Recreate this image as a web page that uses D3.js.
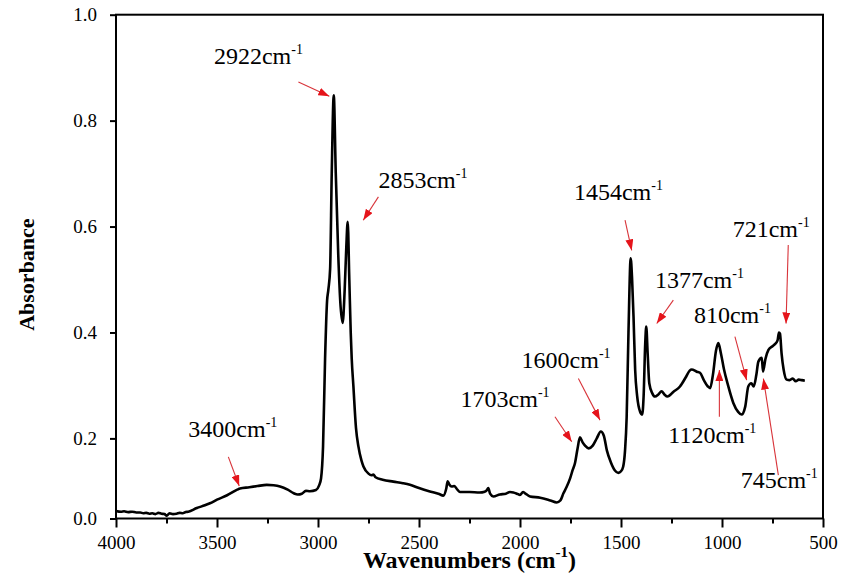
<!DOCTYPE html>
<html>
<head>
<meta charset="utf-8">
<script src="https://cdn.jsdelivr.net/npm/d3@7"></script>
<style>
  html, body { margin: 0; padding: 0; background: #fff; }
  svg { display: block; }
</style>
</head>
<body>
<svg id="chart" width="843" height="575"></svg>
<script>
// ---------------- DATA ----------------
const wavenumbers = [
  4000, 3975, 3960, 3940, 3920, 3900, 3880, 3865, 3850, 3835, 3820, 3805, 3790, 3775, 3760, 3749, 3735, 3718, 3700, 3685, 3670, 3655, 3642, 3600, 3560, 3535,
  3500, 3450, 3400, 3386, 3340, 3300, 3254, 3220, 3188, 3150, 3120, 3100, 3080, 3060, 3040, 3010,
  2995, 2985, 2975, 2965, 2955, 2949, 2940, 2932, 2922, 2912, 2900, 2890, 2878, 2868, 2860, 2853,
  2845, 2838, 2833, 2825, 2812, 2800, 2785, 2775, 2750, 2735, 2726, 2715, 2680, 2627, 2580, 2545,
  2500, 2450, 2400, 2380, 2365, 2358, 2350, 2338, 2325, 2310, 2297, 2250, 2200, 2175, 2165, 2157,
  2148, 2132, 2100, 2070, 2050, 2033, 2015, 2000, 1985, 1975, 1950, 1900, 1850, 1818, 1800, 1785,
  1770, 1752, 1740, 1728, 1715, 1703, 1690, 1678, 1660, 1640, 1620, 1600, 1585, 1570, 1550, 1530,
  1513, 1500, 1489, 1480, 1472, 1463, 1452, 1445, 1438, 1430, 1420, 1405, 1395, 1388, 1380, 1375,
  1368, 1360, 1345, 1332, 1315, 1299, 1285, 1270, 1240, 1208, 1180, 1160, 1150, 1125, 1109, 1090,
  1070, 1059, 1045, 1030, 1018, 1005, 990, 970, 944, 920, 903, 885, 870, 855, 843, 830,
  820, 803, 797, 785, 770, 750, 738, 725, 718, 713, 705, 695, 680, 665, 650, 635,
  620, 605, 590
];
const absorbance = [
  0.019, 0.017, 0.018, 0.016, 0.017, 0.015, 0.015, 0.013, 0.014, 0.012, 0.013, 0.011, 0.014, 0.012, 0.011, 0.007, 0.013, 0.011, 0.012, 0.014, 0.013, 0.016, 0.017, 0.026, 0.033, 0.038,
  0.047, 0.058, 0.072, 0.075, 0.078, 0.081, 0.084, 0.083, 0.080, 0.072, 0.063, 0.060, 0.062, 0.069, 0.068, 0.071,
  0.082, 0.100, 0.180, 0.350, 0.460, 0.480, 0.520, 0.700, 0.848, 0.700, 0.550, 0.460, 0.418, 0.480, 0.560, 0.609,
  0.500, 0.400, 0.350, 0.300, 0.220, 0.180, 0.145, 0.130, 0.112, 0.108, 0.110, 0.103, 0.097, 0.092, 0.088, 0.084,
  0.076, 0.068, 0.061, 0.057, 0.075, 0.093, 0.085, 0.080, 0.081, 0.072, 0.066, 0.066, 0.065, 0.067, 0.070, 0.076,
  0.062, 0.055, 0.060, 0.062, 0.066, 0.065, 0.062, 0.059, 0.066, 0.063, 0.055, 0.052, 0.045, 0.040, 0.045, 0.063,
  0.078, 0.100, 0.120, 0.138, 0.175, 0.202, 0.190, 0.182, 0.175, 0.182, 0.200, 0.213, 0.205, 0.170, 0.140, 0.120,
  0.114, 0.118, 0.130, 0.170, 0.240, 0.400, 0.540, 0.500, 0.430, 0.330, 0.280, 0.250, 0.245, 0.280, 0.380, 0.411,
  0.360, 0.304, 0.285, 0.279, 0.283, 0.289, 0.283, 0.279, 0.288, 0.298, 0.315, 0.328, 0.330, 0.326, 0.324, 0.310,
  0.298, 0.295, 0.320, 0.365, 0.380, 0.360, 0.330, 0.300, 0.267, 0.250, 0.245, 0.260, 0.298, 0.304, 0.298, 0.320,
  0.345, 0.352, 0.326, 0.350, 0.367, 0.374, 0.378, 0.385, 0.400, 0.398, 0.360, 0.330, 0.311, 0.310, 0.313, 0.308,
  0.311, 0.310, 0.309
];

const xTickValues = [4000, 3500, 3000, 2500, 2000, 1500, 1000, 500];
const xMinorTickValues = [3750, 3250, 2750, 2250, 1750, 1250, 750];
const yTickValues = [0.0, 0.2, 0.4, 0.6, 0.8, 1.0];

// annotations: label, text anchor (wn, abs), arrow start, arrow tip
const annLabels = ["2922", "2853", "3400", "1703", "1600", "1454", "1377", "810", "721", "1120", "745"];
const annTextPos = [[3515, 0.907], [2701, 0.672], [3642, 0.202], [2294, 0.260], [1992, 0.332], [1733, 0.650],
                    [1332, 0.484], [1139, 0.418], [947, 0.581], [1266, 0.1875], [907, 0.0753]];
const annArrowFrom = [[3097, 0.873], [2701, 0.656], [3444, 0.154], [1827, 0.241], [1711, 0.313], [1480, 0.612],
                      [1241, 0.461], [936, 0.392], [672, 0.565], [1013, 0.241], [721, 0.1085]];
const annArrowTo = [[2944, 0.846], [2776, 0.612], [3390, 0.081], [1744, 0.1915], [1604, 0.2345], [1447, 0.555],
                    [1323, 0.417], [878, 0.310], [683, 0.417], [1013, 0.329], [795, 0.313]];

// ---------------- LAYOUT ----------------
const W = 843, H = 575;
const margin = { left: 116, right: 20, top: 14.7, bottom: 56.5 };
const plotL = margin.left, plotR = W - margin.right, plotT = margin.top, plotB = H - margin.bottom;
const plotH = plotB - plotT;
const breakFrac = 0.159; // fraction of plot height used by the 0.0-0.2 band

const x = d3.scaleLinear().domain([4000, 500]).range([plotL, plotR]);
const y = d3.scaleLinear().domain([0, 0.2, 1.0]).range([plotB, plotB - breakFrac * plotH, plotT]);

const svg = d3.select("#chart");
const serif = "'Liberation Serif', 'Times New Roman', serif";

// arrow marker
const defs = svg.append("defs");
defs.append("marker")
  .attr("id", "ah").attr("markerUnits", "userSpaceOnUse")
  .attr("markerWidth", 12).attr("markerHeight", 8)
  .attr("refX", 11).attr("refY", 4).attr("orient", "auto")
  .append("path").attr("d", "M0,0 L11,4 L0,8 Z").attr("fill", "#e5141b");

// ---------------- AXES ----------------
const xAxis = svg.append("g").attr("transform", `translate(0,${plotB})`)
  .call(d3.axisBottom(x).tickValues(xTickValues).tickSize(9).tickSizeOuter(0).tickPadding(8).tickFormat(d3.format("d")));
xAxis.select(".domain").remove();
xAxis.selectAll("line").attr("stroke", "#000").attr("stroke-width", 2);
xAxis.selectAll("text").attr("font-family", serif).attr("font-size", 19).attr("fill", "#000");

const xMinor = svg.append("g").attr("transform", `translate(0,${plotB})`)
  .call(d3.axisBottom(x).tickValues(xMinorTickValues).tickSize(5).tickSizeOuter(0).tickFormat(""));
xMinor.select(".domain").remove();
xMinor.selectAll("line").attr("stroke", "#000").attr("stroke-width", 2);

const yAxis = svg.append("g").attr("transform", `translate(${plotL},0)`)
  .call(d3.axisLeft(y).tickValues(yTickValues).tickSize(6).tickSizeOuter(0).tickPadding(13).tickFormat(d3.format(".1f")));
yAxis.select(".domain").remove();
yAxis.selectAll("line").attr("stroke", "#000").attr("stroke-width", 2);
yAxis.selectAll("text").attr("font-family", serif).attr("font-size", 19).attr("fill", "#000");

// frame
svg.append("rect")
  .attr("x", plotL).attr("y", plotT).attr("width", plotR - plotL).attr("height", plotB - plotT)
  .attr("fill", "none").attr("stroke", "#000").attr("stroke-width", 2);

// ---------------- LINE ----------------
const pts = wavenumbers.map((w, i) => [w, absorbance[i]]);
const line = d3.line().x(d => x(d[0])).y(d => y(d[1])).curve(d3.curveMonotoneX);
svg.append("path").datum(pts)
  .attr("d", line).attr("fill", "none").attr("stroke", "#000")
  .attr("stroke-width", 2.6).attr("stroke-linejoin", "round");

// ---------------- ANNOTATIONS ----------------
annLabels.forEach((lab, i) => {
  const t = svg.append("text")
    .attr("x", x(annTextPos[i][0])).attr("y", y(annTextPos[i][1]))
    .attr("font-family", serif).attr("font-size", 24).attr("fill", "#000");
  t.append("tspan").text(lab + "cm");
  t.append("tspan").attr("dy", -10).attr("font-size", 14).text("-1");
  svg.append("line")
    .attr("x1", x(annArrowFrom[i][0])).attr("y1", y(annArrowFrom[i][1]))
    .attr("x2", x(annArrowTo[i][0])).attr("y2", y(annArrowTo[i][1]))
    .attr("stroke", "#d8343a").attr("stroke-width", 1.1)
    .attr("marker-end", "url(#ah)");
});

// ---------------- AXIS TITLES ----------------
const xt = svg.append("text")
  .attr("x", (plotL + plotR) / 2).attr("y", 568)
  .attr("text-anchor", "middle").attr("font-family", serif)
  .attr("font-size", 24).attr("font-weight", "bold").attr("fill", "#000");
xt.append("tspan").text("Wavenumbers (cm");
xt.append("tspan").attr("dy", -11).attr("font-size", 15).text("-1");
xt.append("tspan").attr("dy", 11).text(")");

svg.append("text")
  .attr("transform", `translate(34,${(plotT + plotB) / 2 + 8}) rotate(-90)`)
  .attr("text-anchor", "middle").attr("font-family", serif)
  .attr("font-size", 22).attr("font-weight", "bold").attr("fill", "#000")
  .text("Absorbance");
</script>
</body>
</html>
